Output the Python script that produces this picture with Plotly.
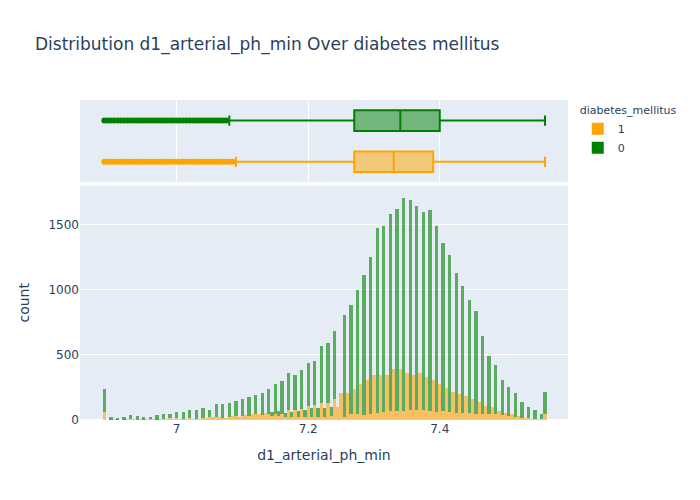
import plotly.graph_objects as go

# 直方圖分箱中心（每 0.005 一格）：整數格 + 半格
ph_grid = [6.89, 6.90, 6.91, 6.92, 6.93, 6.94, 6.95, 6.96, 6.97, 6.98, 6.99,
           7.00, 7.01, 7.02, 7.03, 7.04, 7.05, 7.06, 7.07, 7.08, 7.09,
           7.10, 7.11, 7.12, 7.13, 7.14, 7.15, 7.16, 7.17, 7.18, 7.19,
           7.20, 7.21, 7.22, 7.23, 7.24, 7.25, 7.26, 7.27, 7.28, 7.29,
           7.30, 7.31, 7.32, 7.33, 7.34, 7.35, 7.36, 7.37, 7.38, 7.39,
           7.40, 7.41, 7.42, 7.43, 7.44, 7.45, 7.46, 7.47, 7.48, 7.49,
           7.50, 7.51, 7.52, 7.53, 7.54, 7.55, 7.56]
ph_half = [6.895, 6.905, 6.915, 6.925, 6.935, 6.945, 6.955, 6.965, 6.975, 6.985,
           6.995, 7.005, 7.015, 7.025, 7.035, 7.045, 7.055, 7.065, 7.075, 7.085,
           7.095, 7.105, 7.115, 7.125, 7.135, 7.145, 7.155, 7.165, 7.175, 7.185,
           7.195, 7.205, 7.215, 7.225, 7.235, 7.245, 7.255, 7.265, 7.275, 7.285,
           7.295, 7.305, 7.315, 7.325, 7.335, 7.345, 7.355, 7.365, 7.375, 7.385,
           7.395, 7.405, 7.415, 7.425, 7.435, 7.445, 7.455, 7.465, 7.475, 7.485,
           7.495, 7.505, 7.515, 7.525, 7.535, 7.545, 7.555]

# diabetes_mellitus = 1（橙色）
count_1_grid = [64, 7, 5, 5, 10, 3, 5, 8, 5, 12, 18,
                18, 12, 18, 12, 18, 25, 25, 20, 25, 33,
                33, 33, 46, 41, 51, 51, 46, 79, 79, 89,
                110, 115, 135, 135, 166, 207, 212, 238, 276, 309,
                348, 348, 348, 395, 392, 366, 350, 366, 330, 307,
                279, 251, 218, 205, 187, 161, 143, 110, 102, 71,
                59, 51, 33, 20, 13, 8, 48]
count_1_half = [0, 5, 3, 4, 5, 4, 5, 6, 6, 8,
                10, 10, 12, 12, 14, 18, 28, 27, 22, 33,
                25, 41, 51, 46, 59, 35, 35, 30, 25, 25,
                25, 30, 30, 30, 35, 102, 25, 46, 51, 41,
                51, 55, 64, 71, 70, 76, 79, 79, 80, 75,
                66, 70, 66, 60, 60, 55, 50, 50, 46, 46,
                40, 35, 25, 20, 15, 10, 8]

# diabetes_mellitus = 0（綠色）
count_0_grid = [176, 18, 13, 20, 31, 30, 20, 17, 36, 36, 33,
                46, 52, 61, 67, 76, 54, 100, 105, 108, 115,
                130, 146, 148, 169, 189, 228, 256, 284, 269, 297,
                332, 341, 436, 459, 520, 0, 0, 0, 0, 0,
                0, 0, 0, 0, 0, 0, 0, 0, 0, 0,
                0, 0, 0, 0, 0, 0, 0, 0, 0, 0,
                0, 0, 0, 0, 0, 0, 169]
count_0_half = [0, 0, 0, 0, 0, 0, 0, 0, 0, 0,
                0, 0, 0, 0, 0, 0, 0, 0, 0, 0,
                0, 0, 0, 0, 0, 29, 36, 29, 41, 46,
                54, 62, 62, 67, 67, 0, 784, 839, 949, 1075,
                1203, 1422, 1428, 1513, 1553, 1632, 1613, 1567, 1520, 1540,
                1426, 1291, 1203, 1071, 971, 868, 789, 597, 448, 381,
                270, 221, 185, 121, 87, 69, 40]

# 箱形圖統計量（邊際圖）
groups = ["1", "0"]
colors = {"1": "orange", "0": "green"}
box_q1 = {"1": 7.27, "0": 7.27}
box_median = {"1": 7.33, "0": 7.34}
box_q3 = {"1": 7.39, "0": 7.40}
box_lower = {"1": 7.09, "0": 7.08}
box_upper = {"1": 7.56, "0": 7.56}
outliers = {
    "1": [6.89, 6.895, 6.90, 6.905, 6.91, 6.915, 6.92, 6.925, 6.93, 6.935,
          6.94, 6.945, 6.95, 6.955, 6.96, 6.965, 6.97, 6.975, 6.98, 6.985,
          6.99, 6.995, 7.00, 7.005, 7.01, 7.015, 7.02, 7.025, 7.03, 7.035,
          7.04, 7.045, 7.05, 7.055, 7.06, 7.065, 7.07, 7.075, 7.08, 7.085],
    "0": [6.89, 6.895, 6.90, 6.905, 6.91, 6.915, 6.92, 6.925, 6.93, 6.935,
          6.94, 6.945, 6.95, 6.955, 6.96, 6.965, 6.97, 6.975, 6.98, 6.985,
          6.99, 6.995, 7.00, 7.005, 7.01, 7.015, 7.02, 7.025, 7.03, 7.035,
          7.04, 7.045, 7.05, 7.055, 7.06, 7.065, 7.07, 7.075],
}
hist_counts = {"1": (count_1_grid, count_1_half), "0": (count_0_grid, count_0_half)}

fig = go.Figure()

for g in groups:
    grid_vals, half_vals = hist_counts[g]
    # 主圖：堆疊直方圖
    fig.add_trace(go.Bar(x=ph_grid + ph_half, y=grid_vals + half_vals, name=g,
                         marker=dict(color=colors[g], opacity=0.6, line=dict(width=0)),
                         width=0.005, legendgroup=g, xaxis="x", yaxis="y"))
    # 邊際箱形圖
    fig.add_trace(go.Box(y=[g], q1=[box_q1[g]], median=[box_median[g]], q3=[box_q3[g]],
                         lowerfence=[box_lower[g]], upperfence=[box_upper[g]],
                         orientation="h", name=g, width=0.5, boxpoints=False,
                         line=dict(color=colors[g]), legendgroup=g, showlegend=False,
                         xaxis="x2", yaxis="y2"))
    fig.add_trace(go.Scatter(x=outliers[g], y=[g] * len(outliers[g]), mode="markers",
                             marker=dict(color=colors[g], size=6), legendgroup=g,
                             showlegend=False, hoverinfo="x", xaxis="x2", yaxis="y2"))

fig.update_layout(
    template="plotly",
    width=700, height=500,
    font=dict(family="DejaVu Sans"),
    margin=dict(l=80, r=132, t=100, b=80),
    title=dict(text="Distribution d1_arterial_ph_min Over diabetes mellitus", x=0.05),
    barmode="relative", bargap=0,
    legend=dict(title=dict(text="diabetes_mellitus", font=dict(size=11)),
                tracegroupgap=0, font=dict(size=11)),
    xaxis=dict(domain=[0, 1], range=[6.853, 7.595], showgrid=False, automargin=False,
               title=dict(text="d1_arterial_ph_min")),
    yaxis=dict(domain=[0, 0.7326], automargin=False, title=dict(text="count")),
    xaxis2=dict(domain=[0, 1], matches="x", anchor="y2", showticklabels=False, showgrid=True,
                automargin=False),
    yaxis2=dict(domain=[0.7426, 1], anchor="x2", type="category", range=[-0.5, 1.5],
                showticklabels=False, showgrid=False, automargin=False),
)

# 去掉頁面預設邊距，讓圖從左上角開始；隱藏工具列
fig.write_html("out.html", config={"displayModeBar": False},
               post_script="document.body.style.margin='0';")
